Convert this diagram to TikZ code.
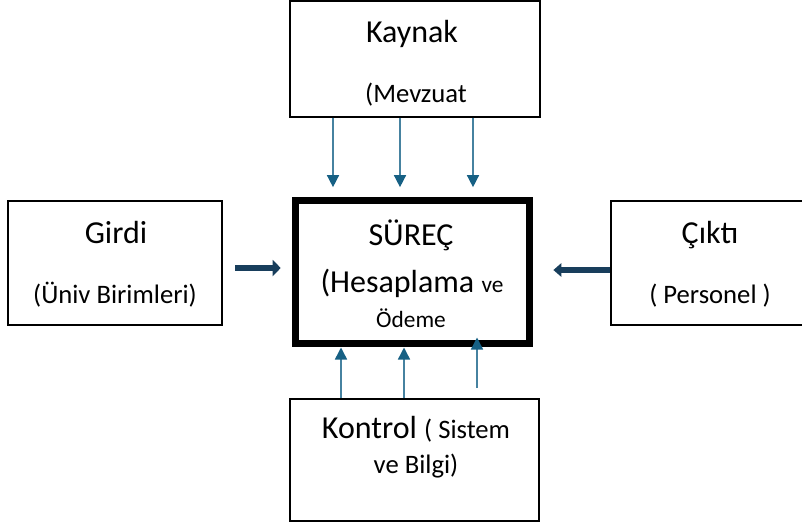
\documentclass[tikz,border=0pt]{standalone}
\usepackage{fontspec}
\setmainfont{Carlito}
\usetikzlibrary{arrows.meta,positioning,calc}
\definecolor{stemblue}{RGB}{70,130,160}
\definecolor{tipblue}{RGB}{22,96,132}
\definecolor{sidenavy}{RGB}{24,62,92}
\newcommand{\bigtxt}{\fontsize{24}{28}\selectfont}
\newcommand{\midtxt}{\fontsize{20}{24}\selectfont}
\newcommand{\smltxt}{\fontsize{17.5}{20}\selectfont}

\begin{document}
\begin{tikzpicture}[x=0.75pt,y=-0.75pt,
    box/.style={draw=black, line width=1.5pt, inner sep=0pt},
    txt/.style={anchor=base, inner sep=0pt},
    vline/.style={draw=stemblue, line width=1.1pt, -{Triangle[width=9pt,length=9pt,color=tipblue]}},
    sidearrow/.style={draw=sidenavy, line width=4.5pt, -{Triangle[width=12pt,length=6pt]}}]
    \useasboundingbox (0,0) rectangle (802,526);

    % boxes
    \node[box, minimum width=187.5pt, minimum height=87pt] (kaynak) at (415,58.5) {};
    \node[box, minimum width=160.5pt, minimum height=93pt] (girdi) at (115,263) {};
    \node[box, line width=5pt, minimum width=175.5pt, minimum height=107.25pt] (surec) at (412.5,272) {};
    \node[box, minimum width=147.75pt, minimum height=93pt] (cikti) at (709.5,263) {};
    \node[box, minimum width=186.75pt, minimum height=91.5pt] (kontrol) at (414.5,460) {};

    % texts
    \node[txt] (kaynakT) at (412,42) {\bigtxt Kaynak};
    \node[txt] (kaynakS) at (416,102) {\midtxt (Mevzuat};
    \node[txt] (girdiT) at (116,243) {\bigtxt Girdi};
    \node[txt] (girdiS) at (115,303) {\midtxt (Üniv Birimleri)};
    \node[txt] (surecT) at (411,245) {\bigtxt SÜREÇ};
    \node[txt] (surecS) at (412,292) {\bigtxt (Hesaplama {\smltxt ve}};
    \node[txt] (surecU) at (411,327) {\smltxt Ödeme};
    \node[txt] (ciktiT) at (710,243) {\bigtxt Çıktı};
    \node[txt] (ciktiS) at (710,303) {\midtxt ( Personel )};
    \node[txt] (kontrolT) at (416,438) {\bigtxt Kontrol {\midtxt ( Sistem}};
    \node[txt] (kontrolS) at (416,473) {\midtxt ve Bilgi)};

    % Kaynak arrows
    \foreach \xx in {333,400,473} {
        \draw[vline, shorten >=7.5pt] (\xx,0 |- kaynak.south) -- (\xx,0 |- surec.north);
    }

    % Kontrol arrows
    \foreach \xx in {341,404} {
        \draw[vline, shorten >=0.5pt] (\xx,0 |- kontrol.north) -- (\xx,0 |- surec.south);
    }
    \draw[vline, shorten <=7.5pt, shorten >=-7pt] (477,0 |- kontrol.north) -- (477,0 |- surec.south);

    % side arrows
    \draw[sidearrow, shorten <=9pt, shorten >=8.6pt] (girdi.east |- 0,268) -- (surec.west |- 0,268);
    \draw[sidearrow, line width=5pt, -{Triangle[width=10pt,length=6pt]}, shorten >=15.4pt] (cikti.west |- 0,270) -- (surec.east |- 0,270);
\end{tikzpicture}
\end{document}
